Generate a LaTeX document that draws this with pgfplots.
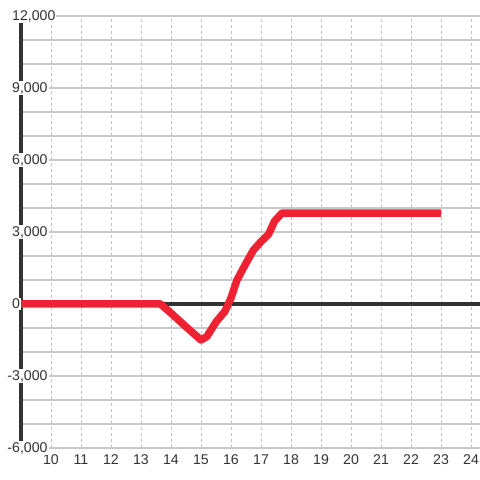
\documentclass[border=0pt]{standalone}
\usepackage{fontspec}
\setmainfont{Liberation Sans}
\usepackage{pgfplots}
\pgfplotsset{compat=1.18}
\definecolor{redline}{RGB}{238,34,51}
\definecolor{axisdark}{RGB}{51,51,51}
\definecolor{gridgray}{RGB}{200,200,200}
\definecolor{dashgray}{RGB}{190,190,190}
\begin{document}
\begin{tikzpicture}
\begin{axis}[
  set layers=standard,
  at={(0,0)}, anchor=south west,
  scale only axis, width=459bp, height=432bp,
  xmin=9, xmax=24.3, ymin=-6000, ymax=12000,
  clip=false,
  axis line style={draw=none},
  xtick={10,...,24},
  xticklabels={10,11,12,13,14,15,16,17,18,19,20,21,22,23,24},
  ytick={-6000,-3000,...,12000},
  yticklabels={{\llap{-}6,000},{\llap{-}3,000},0,{3,000},{6,000},{9,000},{12,000}},
  minor y tick num=2,
  scaled ticks=false,
  major tick length=0pt, minor tick length=0pt,
  xmajorgrids, ymajorgrids, yminorgrids,
  major x grid style={dashgray, line width=0.8bp, dash pattern=on 3bp off 3bp},
  major y grid style={gridgray, line width=1.2bp},
  minor y grid style={gridgray, line width=1.2bp},
  every tick label/.append style={font=\fontsize{14.2}{16}\selectfont, text=axisdark},
  every y tick label/.append style={anchor=west, xshift=-10bp, fill=white, inner sep=1bp},
  every x tick label/.append style={yshift=-3bp},
]
\addplot[axisdark, line width=3.5bp, forget plot, on layer=axis grid] coordinates {(9,0) (24.3,0)};
\addplot[axisdark, line width=3.5bp, forget plot, on layer=axis grid] coordinates {(9,-6000) (9,12000)};
\addplot[redline, line width=7.5bp, line join=round] coordinates {
(9,0) (13.65,0) (14.0,-380) (14.5,-950) (15.0,-1500) (15.2,-1350)
(15.5,-750) (15.8,-300) (16.0,250) (16.2,1000) (16.5,1700) (16.75,2250)
(17.0,2600) (17.25,2900) (17.45,3450) (17.7,3790) (23,3790)
};
\end{axis}
\pgfresetboundingbox
\useasboundingbox (-21bp,-32bp) rectangle (459bp,448bp);
\end{tikzpicture}
\end{document}
